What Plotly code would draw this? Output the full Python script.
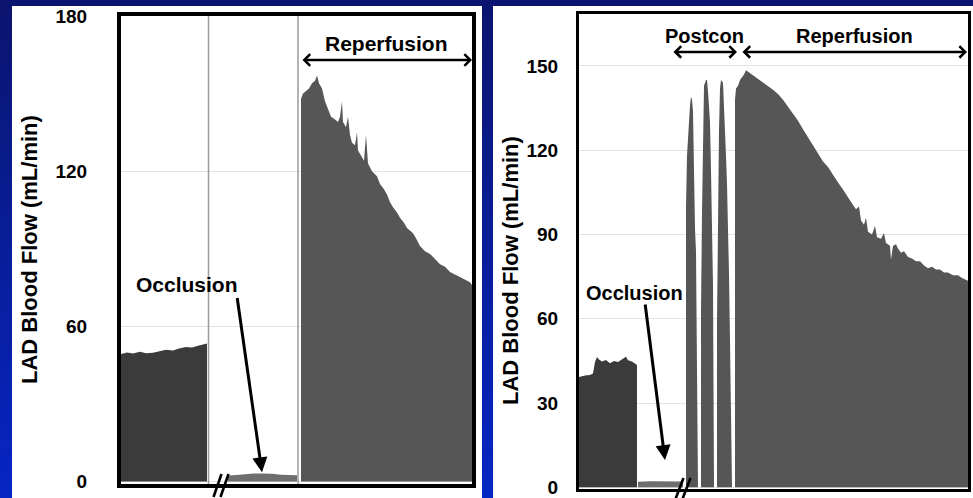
import plotly.graph_objects as go

W, H = 973, 498
FONT = "Liberation Sans, Arial, sans-serif"

# ---------------- Control heart (left recording) ----------------
# time axis in arbitrary sample units, flow in mL/min
ctrl_base_t = [0, 6, 12, 19, 25, 32, 39, 45, 52, 58, 65, 71, 77, 82, 86]
ctrl_base_flow = [49.3, 49.9, 49.5, 50.1, 49.6, 49.8, 50.4, 50.9, 50.6, 51.4,
                  52.0, 51.8, 52.5, 52.9, 53.3]

ctrl_occ_t = [107, 115, 124, 133, 142, 151, 160, 169, 176]
ctrl_occ_flow = [2.3, 2.5, 2.9, 3.1, 3.1, 3.0, 2.6, 2.5, 2.4]

ctrl_rep_t = [180, 182, 185, 188, 191, 194, 196, 198, 201, 204,
              207, 210, 214, 217, 219, 221, 222, 225, 227, 229,
              231, 234, 236, 237, 240, 243, 245, 247, 251, 256,
              259, 263, 266, 269, 272, 276, 279, 283, 286, 289,
              292, 295, 299, 304, 309, 314, 319, 324, 329, 334,
              339, 344, 349, 351]
ctrl_rep_flow = [148, 150, 151, 152, 154, 155, 157, 154, 152, 147,
                 144, 141, 140, 139, 141, 147, 139, 137, 141, 134,
                 131, 130, 135, 128, 126, 124, 134, 123, 120, 118,
                 115, 113, 111, 108, 106, 104, 102, 100, 98, 97,
                 96, 94, 91, 89, 88, 86, 84, 83, 81, 80,
                 79, 78, 77, 76]

ctrl_segment_edges = [87.5, 177]   # recording segment boundaries
ctrl_break_t = 100.5               # time-axis break
ctrl_xmax = 351
ctrl_yticks = [0, 60, 120, 180]

# ---------------- Postconditioned heart (right recording) ----------------
pc_base_t = [0, 6, 11, 14, 16, 18, 20, 23, 27, 31, 35, 39, 43, 47, 49, 53, 58]
pc_base_flow = [39.3, 39.8, 40.0, 40.5, 44.6, 46.4, 45.5, 44.8, 45.3, 44.2,
                45.0, 44.6, 45.6, 46.5, 45.2, 44.8, 43.5]

pc_occ_t = [59, 71, 81, 91, 104]
pc_occ_flow = [2.0, 2.2, 2.1, 2.0, 2.1]

# three brief reperfusion cycles separated by re-occlusions
pc_postcon_t = [107, 107, 108, 109, 110, 111, 112, 113, 114, 115, 116, 117, 118, 119,
                122, 122, 123, 124, 125, 127, 128, 129, 130, 131, 132, 133, 134, 135,
                138, 138, 139, 140, 141, 142, 144, 145, 146, 147, 148, 149, 150, 151, 152, 153]
pc_postcon_flow = [0, 100, 118, 126, 132, 136, 139, 138, 134, 106, 92, 84, 48, 0,
                   0, 62, 98, 126, 143, 145, 145, 141, 135, 130, 113, 98, 72, 0,
                   0, 58, 100, 127, 142, 145, 144, 137, 130, 118, 108, 96, 76, 52, 24, 0]

pc_rep_t = [156, 157, 159, 161, 163, 165, 167, 169, 172, 176,
            179, 184, 189, 194, 199, 204, 209, 214, 219, 224,
            229, 234, 239, 244, 249, 254, 259, 264, 269, 274,
            277, 280, 282, 285, 287, 289, 293, 296, 298, 302,
            305, 307, 311, 312, 314, 317, 319, 322, 325, 329,
            333, 337, 341, 345, 349, 353, 357, 361, 365, 369,
            374, 379, 383, 389]
pc_rep_flow = [138, 142, 143, 145, 146, 147, 148.5, 148, 147, 146,
               145.5, 144, 143, 141.5, 140, 138, 135.5, 133, 130.5, 127.5,
               124.5, 121.5, 118.5, 116, 114, 111, 108.5, 106, 103, 100.5,
               99, 100, 95, 93.5, 96, 91, 90, 93, 89, 88.5,
               90.5, 87, 86, 81, 86, 86.5, 85, 83.5, 84, 82,
               81.5, 80.5, 80.5, 79, 78, 78.5, 77.5, 77.5, 76.5, 76.5,
               75.5, 75.5, 74.5, 73.5]

pc_break_t = 104.5
pc_xmax = 389
pc_yticks = [0, 30, 60, 90, 120, 150]

# phase markers (label, start, end) above each recording
ctrl_phases = [("Reperfusion", ctrl_rep_t[0], ctrl_xmax)]
pc_phases = [("Postcon", 93, 158), ("Reperfusion", 162, pc_xmax - 1)]

DARK = "#3b3b3b"
MID = "#565656"
LIGHT = "#6e6e6e"


def area(t, v, color, xa, ya):
    x = [t[0]] + list(t) + [t[-1]]
    y = [0] + list(v) + [0]
    return go.Scatter(x=x, y=y, mode="lines", fill="toself", fillcolor=color,
                      line=dict(width=0, color=color), xaxis=xa, yaxis=ya,
                      hoverinfo="skip", showlegend=False)


fig = go.Figure()
fig.add_trace(area(ctrl_base_t, ctrl_base_flow, DARK, "x", "y"))
fig.add_trace(area(ctrl_occ_t, ctrl_occ_flow, LIGHT, "x", "y"))
fig.add_trace(area(ctrl_rep_t, ctrl_rep_flow, MID, "x", "y"))
fig.add_trace(area(pc_base_t, pc_base_flow, DARK, "x2", "y2"))
fig.add_trace(area(pc_occ_t, pc_occ_flow, LIGHT, "x2", "y2"))
fig.add_trace(area(pc_postcon_t, pc_postcon_flow, MID, "x2", "y2"))
fig.add_trace(area(pc_rep_t, pc_rep_flow, MID, "x2", "y2"))

shapes = []
# slide background: vertical blue gradient
n = 60
top, bot = (11, 21, 110), (6, 38, 196)
for i in range(n):
    f = (i + 0.5) / n
    c = tuple(round(top[k] + (bot[k] - top[k]) * f) for k in range(3))
    shapes.append(dict(type="rect", xref="paper", yref="paper", layer="below",
                       x0=0, x1=1, y0=1 - (i + 1) / n - 0.002, y1=1 - i / n,
                       fillcolor="rgb(%d,%d,%d)" % c, line=dict(width=0)))
# white panels
for x0, x1 in [(12, 482), (493, 973)]:
    shapes.append(dict(type="rect", xref="paper", yref="paper", layer="below",
                       x0=x0 / W, x1=x1 / W, y0=0, y1=1 - 6 / H,
                       fillcolor="white", line=dict(width=0)))
# recording segment separators
for e in ctrl_segment_edges:
    shapes.append(dict(type="line", xref="x", yref="y domain", x0=e, x1=e, y0=0, y1=1,
                       line=dict(color="#9a9a9a", width=1.5), layer="above"))
# axis break marks
for xr, c, yb, yt in [("x", ctrl_break_t, 497, 474), ("x2", pc_break_t, 499, 478)]:
    for off in (-4, 3):
        shapes.append(dict(type="line", xref=xr, yref="paper",
                           x0=c + off - 4, x1=c + off + 4,
                           y0=1 - yb / H, y1=1 - yt / H,
                           line=dict(color="black", width=2.6), layer="above"))

ann = []
# y-axis titles
for xc, yc in [(29, 250), (510, 271)]:
    ann.append(dict(text="LAD Blood Flow (mL/min)", xref="paper", yref="paper",
                    x=xc / W, y=1 - yc / H, xanchor="center", yanchor="middle",
                    textangle=-90, showarrow=False,
                    font=dict(size=22, weight="bold", color="black", family=FONT)))


def phase(label, t0, t1, xr, yr, y_arrow, y_text, size):
    ann.append(dict(text=label, x=(t0 + t1) / 2, y=y_text, xref=xr, yref=yr,
                    xanchor="center", yanchor="middle", showarrow=False,
                    font=dict(size=size, weight="bold", color="black", family=FONT)))
    ann.append(dict(text="", x=t1, y=y_arrow, ax=t0, ay=y_arrow, xref=xr, yref=yr,
                    axref=xr, ayref=yr, showarrow=True, arrowside="end+start",
                    arrowhead=4, startarrowhead=4, arrowsize=0.9, startarrowsize=0.9,
                    arrowwidth=2.5, arrowcolor="black", standoff=0, startstandoff=0))


for lab, t0, t1 in ctrl_phases:
    phase(lab, t0, t1, "x", "y", 163, 169.5, 21)
for lab, t0, t1 in pc_phases:
    phase(lab, t0, t1, "x2", "y2", 155, 160.5, 20)

# occlusion labels with arrows
ann.append(dict(text="Occlusion", x=66, y=76, xref="x", yref="y", showarrow=False,
                xanchor="center", yanchor="middle",
                font=dict(size=21, weight="bold", color="black", family=FONT)))
ann.append(dict(text="", x=141, y=3.5, ax=116, ay=71.5, xref="x", yref="y", axref="x", ayref="y",
                showarrow=True, arrowhead=2, arrowsize=1, arrowwidth=3, arrowcolor="black", standoff=0))
ann.append(dict(text="Occlusion", x=55, y=69.2, xref="x2", yref="y2", showarrow=False,
                xanchor="center", yanchor="middle",
                font=dict(size=20, weight="bold", color="black", family=FONT)))
ann.append(dict(text="", x=86, y=9.7, ax=66, ay=65.6, xref="x2", yref="y2", axref="x2", ayref="y2",
                showarrow=True, arrowhead=2, arrowsize=1, arrowwidth=3, arrowcolor="black", standoff=0))

xcommon = dict(showline=True, linecolor="black", mirror=True, showticklabels=False,
               ticks="", showgrid=False, zeroline=False, fixedrange=True, automargin=False)
ycommon = dict(showline=True, linecolor="black", mirror=True, ticks="", showgrid=True,
               gridcolor="#e3e3e3", gridwidth=1, zeroline=False, fixedrange=True,
               automargin=False,
               tickfont=dict(size=19, weight="bold", color="black", family=FONT))

fig.update_layout(
    width=W, height=H,
    margin=dict(l=0, r=0, t=0, b=0, pad=0, autoexpand=False),
    paper_bgcolor="rgb(9,28,150)", plot_bgcolor="white", showlegend=False,
    font=dict(family=FONT, color="black"),
    xaxis=dict(domain=[121 / W, 472 / W], range=[0, ctrl_xmax], anchor="y",
               linewidth=4, **xcommon),
    yaxis=dict(domain=[1 - 484 / H, 1 - 16 / H], range=[-1, 180], anchor="x",
               tickvals=ctrl_yticks, linewidth=4, ticklabelstandoff=26, **ycommon),
    xaxis2=dict(domain=[579 / W, 968 / W], range=[0, pc_xmax], anchor="y2",
                linewidth=3, **xcommon),
    yaxis2=dict(domain=[1 - 489 / H, 1 - 14 / H], range=[-0.6, 168.5], anchor="x2",
                tickvals=pc_yticks, linewidth=3, ticklabelstandoff=14, **ycommon),
    shapes=shapes, annotations=ann,
)

fig.write_html("out.html")
